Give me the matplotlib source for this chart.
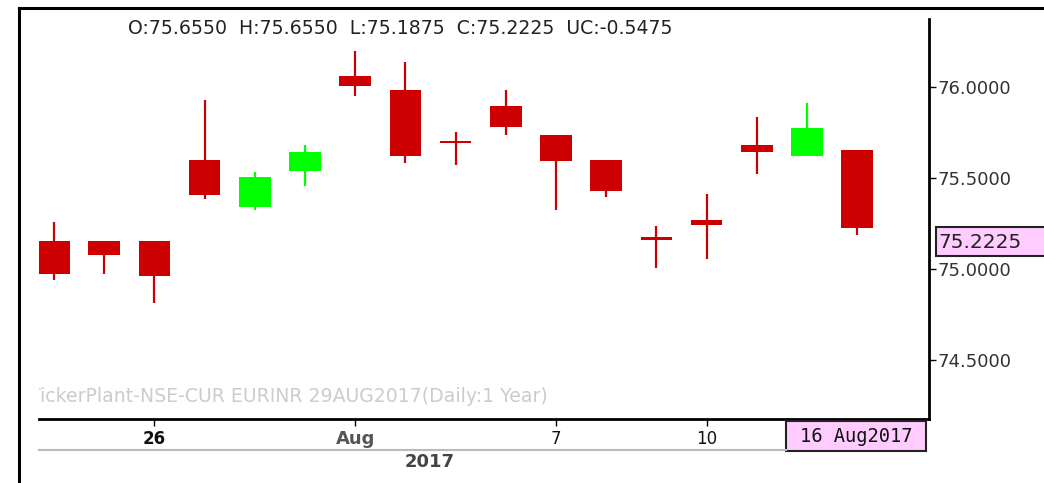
import matplotlib
matplotlib.use("Agg")
import matplotlib.pyplot as plt
from matplotlib.patches import Rectangle
from matplotlib.lines import Line2D

plt.rcParams['font.family'] = ['DejaVu Sans']

# EURINR 29AUG2017 daily candles, 24 Jul - 16 Aug 2017
dates = ["24 Jul", "25 Jul", "26 Jul", "27 Jul", "28 Jul", "31 Jul", "1 Aug", "2 Aug",
         "3 Aug", "4 Aug", "7 Aug", "8 Aug", "9 Aug", "10 Aug", "11 Aug", "14 Aug", "16 Aug"]
opens = [75.155, 75.155, 75.155, 75.598, 75.341, 75.537, 76.060, 75.980,
         75.700, 75.896, 75.733, 75.598, 75.175, 75.268, 75.682, 75.621, 75.655]
highs = [75.259, 75.155, 75.155, 75.927, 75.533, 75.680, 76.198, 76.134,
         75.753, 75.980, 75.733, 75.598, 75.235, 75.411, 75.834, 75.909, 75.655]
lows = [74.939, 74.970, 74.814, 75.382, 75.323, 75.455, 75.951, 75.580,
        75.570, 75.735, 75.323, 75.393, 75.003, 75.054, 75.519, 75.621, 75.1875]
closes = [74.970, 75.075, 74.961, 75.404, 75.504, 75.640, 76.004, 75.621,
          75.690, 75.777, 75.591, 75.426, 75.160, 75.239, 75.640, 75.773, 75.2225]

tick_idx = [2, 6, 10, 13]
tick_labels = ["26", "Aug", "7", "10"]
y_ticks = [74.5, 75.0, 75.5, 76.0]

UP = "#00ff00"
DOWN = "#cc0000"

W, H = 1044, 483
fig = plt.figure(figsize=(W / 100, H / 100), dpi=100)
ax = fig.add_axes([39 / W, 1 - 419 / H, (929 - 39) / W, (419 - 19) / H])

x = list(range(len(dates)))
colors = [UP if c >= o else DOWN for o, c in zip(opens, closes)]
bottoms = [min(o, c) for o, c in zip(opens, closes)]
heights = [abs(c - o) for o, c in zip(opens, closes)]

ax.vlines(x, lows, highs, colors=colors, linewidth=1.6, zorder=2)
ax.bar(x, heights, bottom=bottoms, width=0.63, color=colors, linewidth=0, zorder=3)

ax.set_xlim(-0.3, 17.43)
ax.set_ylim(74.176, 76.372)

ax.spines['left'].set_visible(False)
ax.spines['top'].set_visible(False)
ax.spines['right'].set_linewidth(2)
ax.spines['bottom'].set_linewidth(2)

ax.yaxis.tick_right()
ax.set_yticks(y_ticks)
ax.set_yticklabels(["%.4f" % v for v in y_ticks])
ax.tick_params(axis='y', direction='out', length=5, width=1, pad=1,
               labelsize=13, labelcolor="#333333")

ax.set_xticks(tick_idx)
ax.set_xticklabels(tick_labels)
ax.tick_params(axis='x', direction='out', length=5, width=1, pad=3,
               labelsize=12, labelcolor="#111111")
for lbl in ax.get_xticklabels():
    if lbl.get_text() == "Aug":
        lbl.set_fontweight('bold')
        lbl.set_color('#555555')
        lbl.set_fontsize(13)
    elif lbl.get_text() == "26":
        lbl.set_fontweight('bold')

# watermark, clipped at the left edge of the plot
ax.text((548 - 39) / (929 - 39), 0.055,
        "TickerPlant-NSE-CUR EURINR 29AUG2017(Daily:1 Year)",
        transform=ax.transAxes, ha='right', va='center', fontsize=13.6,
        color="#cccccc", clip_on=True)

# header with OHLC of last bar
fig.text(128 / W, 1 - 29 / H,
         "O:75.6550  H:75.6550  L:75.1875  C:75.2225  UC:-0.5475",
         ha='left', va='center', fontsize=13.6, color="#222222")

# year label and separator
fig.add_artist(Line2D([39 / W, 786 / W], [1 - 450 / H, 1 - 450 / H],
                      color="#bbbbbb", linewidth=1.5))
fig.text(430 / W, 1 - 462 / H, "2017", ha='center', va='center',
         fontsize=13, fontweight='bold', color="#444444")

# outer frame (left and top)
fig.add_artist(Line2D([19 / W, 19 / W], [0, 1 - 8 / H], color="black", linewidth=2.2))
fig.add_artist(Line2D([19 / W, 1], [1 - 8 / H, 1 - 8 / H], color="black", linewidth=2.2))

# pink date box
fig.add_artist(Rectangle((786 / W, 1 - 451 / H), (926 - 786) / W, 30 / H,
                         transform=fig.transFigure, facecolor="#ffccff",
                         edgecolor="#222222", linewidth=1.5))
fig.text(856 / W, 1 - 437 / H, "16 Aug2017", ha='center', va='center',
         fontsize=13.5, color="#111111", family=['DejaVu Sans Mono'])

# pink last price box
fig.add_artist(Rectangle((936 / W, 1 - 256 / H), (1050 - 936) / W, 29 / H,
                         transform=fig.transFigure, facecolor="#ffccff",
                         edgecolor="#222222", linewidth=1.5))
fig.text(938 / W, 1 - 242 / H, "75.2225", ha='left', va='center',
         fontsize=14.5, color="#222222")

fig.savefig("out.png", dpi=100)
